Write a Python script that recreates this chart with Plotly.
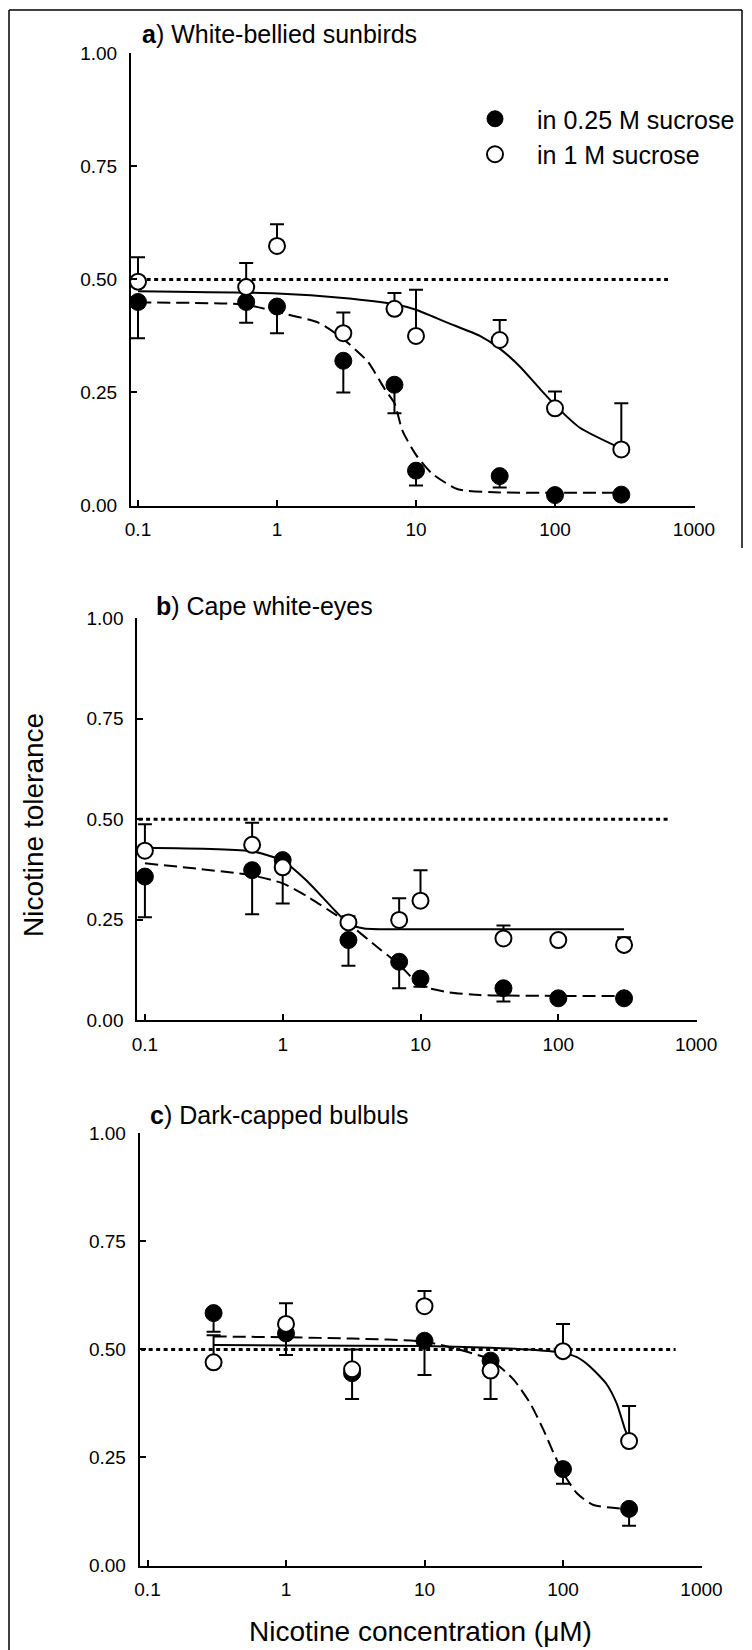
import plotly.graph_objects as go

W, H = 752, 1650
FONT = "Liberation Sans, Arial, sans-serif"

# ---------------- data ----------------
X_TICKS = [0.1, 1, 10, 100, 1000]
X_TICK_TEXT = ["0.1", "1", "10", "100", "1000"]
Y_TICKS = [0, 0.25, 0.5, 0.75, 1.0]
Y_TICK_TEXT = ["0.00", "0.25", "0.50", "0.75", "1.00"]

REF_X = [0.09, 650]
REF_Y = [0.5, 0.5]

LEGEND_LOW = "in 0.25 M sucrose"
LEGEND_HIGH = "in 1 M sucrose"

# a) White-bellied sunbirds
A_X = [0.1, 0.6, 1, 3, 7, 10, 40, 100, 300]
A_LOW_Y = [0.45, 0.45, 0.44, 0.32, 0.267, 0.077, 0.065, 0.023, 0.024]
A_LOW_ERR = [0.08, 0.046, 0.059, 0.07, 0.063, 0.033, 0.025, 0.0, 0.0]
A_HIGH_Y = [0.495, 0.483, 0.574, 0.381, 0.435, 0.375, 0.366, 0.215, 0.124]
A_HIGH_ERR = [0.054, 0.053, 0.048, 0.046, 0.035, 0.102, 0.044, 0.037, 0.102]
A_FIT_HIGH_X = [0.1, 1, 3, 7, 10, 16.6, 28.8, 40, 56, 78, 100, 151, 300]
A_FIT_HIGH_Y = [0.474, 0.469, 0.459, 0.445, 0.433, 0.405, 0.375, 0.347, 0.307, 0.258, 0.222, 0.172, 0.126]
A_FIT_LOW_X = [0.1, 0.6, 1, 2, 3, 4.5, 6, 7, 8, 10, 13, 20, 40, 100, 300]
A_FIT_LOW_Y = [0.449, 0.444, 0.428, 0.404, 0.368, 0.318, 0.256, 0.226, 0.165, 0.112, 0.071, 0.036, 0.029, 0.028, 0.028]

# b) Cape white-eyes
B_X = [0.1, 0.6, 1, 3, 7, 10, 40, 100, 300]
B_LOW_Y = [0.357, 0.373, 0.398, 0.199, 0.145, 0.103, 0.079, 0.054, 0.054]
B_LOW_ERR = [0.101, 0.11, 0.108, 0.064, 0.066, 0.02, 0.033, 0.0, 0.0]
B_HIGH_Y = [0.4215, 0.436, 0.38, 0.243, 0.249, 0.297, 0.203, 0.199, 0.187]
B_HIGH_ERR = [0.066, 0.055, 0.015, 0.015, 0.054, 0.076, 0.032, 0.0, 0.019]
B_FIT_HIGH_X = [0.1, 0.6, 1, 1.5, 2.4, 3, 3.9, 10, 100, 300]
B_FIT_HIGH_Y = [0.429, 0.42, 0.396, 0.346, 0.272, 0.24, 0.228, 0.226, 0.226, 0.226]
B_FIT_LOW_X = [0.1, 0.6, 1, 1.5, 2.4, 3, 5, 7, 10, 16, 27, 40, 100, 300]
B_FIT_LOW_Y = [0.39, 0.36, 0.34, 0.308, 0.263, 0.24, 0.178, 0.138, 0.086, 0.069, 0.062, 0.061, 0.06, 0.06]

# c) Dark-capped bulbuls
C_X = [0.3, 1, 3, 10, 30, 100, 300]
C_LOW_Y = [0.584, 0.537, 0.445, 0.52, 0.474, 0.223, 0.131]
C_LOW_ERR = [0.043, 0.05, 0.06, 0.079, 0.089, 0.034, 0.039]
C_HIGH_Y = [0.47, 0.559, 0.454, 0.6, 0.451, 0.496, 0.288]
C_HIGH_ERR = [0.063, 0.048, 0.046, 0.035, 0.02, 0.063, 0.081]
C_FIT_HIGH_X = [0.3, 1, 10, 30, 60, 100, 126, 157, 206, 244, 281, 300]
C_FIT_HIGH_Y = [0.51, 0.509, 0.508, 0.504, 0.499, 0.492, 0.482, 0.46, 0.42, 0.375, 0.314, 0.29]
C_FIT_LOW_X = [0.3, 1, 3, 10, 20, 30, 44, 58, 72, 85, 100, 126, 166, 300]
C_FIT_LOW_Y = [0.53, 0.528, 0.525, 0.518, 0.495, 0.476, 0.43, 0.375, 0.315, 0.262, 0.215, 0.167, 0.14, 0.13]

PANEL_TITLES = ["<b>a</b>) White-bellied sunbirds",
                "<b>b</b>) Cape white-eyes",
                "<b>c</b>) Dark-capped bulbuls"]
X_TITLE = "Nicotine concentration (μM)"
Y_TITLE = "Nicotine tolerance"

# ---------------- layout geometry (pixels) ----------------
PANELS = [
    dict(l=131.0, r=695.0, t=53.3, b=505.5, xr=[-1.0504, 3.0072], tx=140, ty=34.5,
         X=A_X, LY=A_LOW_Y, LE=A_LOW_ERR, HY=A_HIGH_Y, HE=A_HIGH_ERR,
         FHX=A_FIT_HIGH_X, FHY=A_FIT_HIGH_Y, FLX=A_FIT_LOW_X, FLY=A_FIT_LOW_Y),
    dict(l=137.3, r=696.7, t=618.3, b=1020.0, xr=[-1.0552, 3.0044], tx=154, ty=606,
         X=B_X, LY=B_LOW_Y, LE=B_LOW_ERR, HY=B_HIGH_Y, HE=B_HIGH_ERR,
         FHX=B_FIT_HIGH_X, FHY=B_FIT_HIGH_Y, FLX=B_FIT_LOW_X, FLY=B_FIT_LOW_Y),
    dict(l=139.7, r=701.7, t=1133.3, b=1565.5, xr=[-1.0563, 3.0014], tx=148.3, ty=1114.5,
         X=C_X, LY=C_LOW_Y, LE=C_LOW_ERR, HY=C_HIGH_Y, HE=C_HIGH_ERR,
         FHX=C_FIT_HIGH_X, FHY=C_FIT_HIGH_Y, FLX=C_FIT_LOW_X, FLY=C_FIT_LOW_Y),
]

fig = go.Figure()
layout_axes = {}
annotations = []

for i, p in enumerate(PANELS):
    n = i + 1
    xa = "x" if n == 1 else f"x{n}"
    ya = "y" if n == 1 else f"y{n}"
    xkey = "xaxis" if n == 1 else f"xaxis{n}"
    ykey = "yaxis" if n == 1 else f"yaxis{n}"

    fig.add_trace(go.Scatter(x=REF_X, y=REF_Y, mode="lines", xaxis=xa, yaxis=ya,
                             line=dict(color="black", width=3, dash="4px,3.5px"),
                             showlegend=False, hoverinfo="skip", cliponaxis=False))
    fig.add_trace(go.Scatter(x=p["FLX"], y=p["FLY"], mode="lines", xaxis=xa, yaxis=ya,
                             line=dict(color="black", width=2, dash="13px,6px",
                                       shape="spline", smoothing=0.6),
                             showlegend=False, hoverinfo="skip"))
    fig.add_trace(go.Scatter(x=p["FHX"], y=p["FHY"], mode="lines", xaxis=xa, yaxis=ya,
                             line=dict(color="black", width=2, shape="spline", smoothing=0.6),
                             showlegend=False, hoverinfo="skip"))
    zeros = [0.0] * len(p["X"])
    fig.add_trace(go.Scatter(x=p["X"], y=p["LY"], mode="markers", xaxis=xa, yaxis=ya,
                             name=LEGEND_LOW, showlegend=(n == 1),
                             marker=dict(symbol="circle", size=17, color="black",
                                         line=dict(color="black", width=1)),
                             error_y=dict(type="data", symmetric=False, array=zeros,
                                          arrayminus=p["LE"], color="black",
                                          thickness=2, width=7),
                             cliponaxis=False))
    fig.add_trace(go.Scatter(x=p["X"], y=p["HY"], mode="markers", xaxis=xa, yaxis=ya,
                             name=LEGEND_HIGH, showlegend=(n == 1),
                             marker=dict(symbol="circle", size=16, color="white",
                                         line=dict(color="black", width=2)),
                             error_y=dict(type="data", symmetric=False, array=p["HE"],
                                          arrayminus=zeros, color="black",
                                          thickness=2, width=7),
                             cliponaxis=False))

    layout_axes[xkey] = dict(
        domain=[p["l"] / W, p["r"] / W], range=p["xr"], type="log", anchor=ya,
        tickmode="array", tickvals=X_TICKS, ticktext=X_TICK_TEXT,
        ticks="inside", ticklen=6, tickwidth=2, tickcolor="black",
        showline=True, linecolor="black", linewidth=2, automargin=False,
        showgrid=False, zeroline=False, ticklabelstandoff=6,
        tickfont=dict(family=FONT, size=19, color="black"))
    layout_axes[ykey] = dict(
        domain=[1 - p["b"] / H, 1 - p["t"] / H], range=[0, 1], anchor=xa,
        tickmode="array", tickvals=Y_TICKS, ticktext=Y_TICK_TEXT,
        ticks="inside", ticklen=6, tickwidth=2, tickcolor="black",
        showline=True, linecolor="black", linewidth=2, automargin=False,
        showgrid=False, zeroline=False, ticklabelstandoff=8,
        tickfont=dict(family=FONT, size=19, color="black"))

    annotations.append(dict(text=PANEL_TITLES[i], xref="paper", yref="paper",
                            x=p["tx"] / W, y=1 - p["ty"] / H, xanchor="left",
                            yanchor="middle", showarrow=False,
                            font=dict(family=FONT, size=25, color="black")))

annotations.append(dict(text=Y_TITLE, xref="paper", yref="paper", x=33 / W, y=1 - 825 / H,
                        xanchor="center", yanchor="middle", textangle=-90, showarrow=False,
                        font=dict(family=FONT, size=28, color="black")))
annotations.append(dict(text=X_TITLE, xref="paper", yref="paper", x=420.5 / W, y=1 - 1631 / H,
                        xanchor="center", yanchor="middle", showarrow=False,
                        font=dict(family=FONT, size=28, color="black")))

shapes = [
    dict(type="line", xref="paper", yref="paper", x0=9 / W, x1=742 / W,
         y0=1 - 10 / H, y1=1 - 10 / H, line=dict(color="black", width=1.5)),
    dict(type="line", xref="paper", yref="paper", x0=9 / W, x1=9 / W,
         y0=1 - 10 / H, y1=0, line=dict(color="black", width=1.5)),
    dict(type="line", xref="paper", yref="paper", x0=742 / W, x1=742 / W,
         y0=1 - 10 / H, y1=1 - 548 / H, line=dict(color="black", width=1.5)),
]

fig.update_layout(
    width=W, height=H, autosize=False,
    margin=dict(l=0, r=0, t=0, b=0, pad=0, autoexpand=False),
    paper_bgcolor="white", plot_bgcolor="rgba(0,0,0,0)",
    font=dict(family=FONT, color="black"),
    showlegend=True,
    legend=dict(x=453 / W, y=1 - 96 / H, xanchor="left", yanchor="top",
                bgcolor="rgba(0,0,0,0)", borderwidth=0, itemwidth=74,
                font=dict(family=FONT, size=25, color="black"),
                tracegroupgap=0),
    annotations=annotations,
    shapes=shapes,
    **layout_axes,
)

fig.write_html("out.html")
